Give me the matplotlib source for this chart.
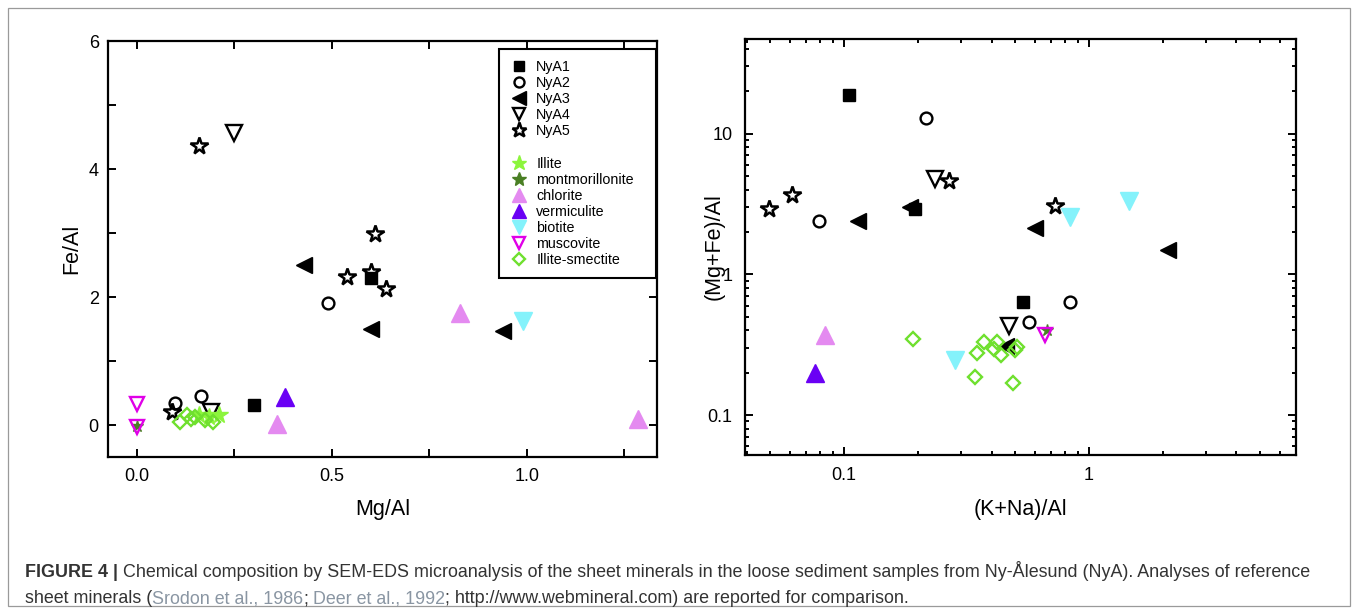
import matplotlib
matplotlib.use("Agg")
import matplotlib.pyplot as plt
from matplotlib.lines import Line2D
from matplotlib.patches import Rectangle
from matplotlib.ticker import FixedLocator, NullFormatter, FuncFormatter

W, H = 1358, 614

# ---- left panel: Mg/Al (x) vs Fe/Al (y)
l_nya1_x = [0.60, 0.30]
l_nya1_y = [2.29, 0.31]
l_nya2_x = [0.49, 0.165, 0.098]
l_nya2_y = [1.90, 0.46, 0.34]
l_nya3_x = [0.43, 0.60, 0.94]
l_nya3_y = [2.50, 1.50, 1.47]
l_nya4_x = [0.25, 0.19]
l_nya4_y = [4.57, 0.21]
l_nya5_x = [0.16, 0.61, 0.54, 0.60, 0.64, 0.092]
l_nya5_y = [4.36, 2.98, 2.31, 2.39, 2.13, 0.20]
l_illite_x = [0.16, 0.185, 0.21]
l_illite_y = [0.15, 0.12, 0.15]
l_mont_x = [0.0]
l_mont_y = [-0.02]
l_chlorite_x = [0.83, 0.36, 1.285]
l_chlorite_y = [1.75, 0.01, 0.09]
l_verm_x = [0.38]
l_verm_y = [0.44]
l_biotite_x = [0.99]
l_biotite_y = [1.62]
l_musc_x = [0.0, 0.0]
l_musc_y = [0.33, -0.03]
l_is_x = [0.11, 0.13, 0.15, 0.175, 0.195, 0.14]
l_is_y = [0.04, 0.16, 0.12, 0.08, 0.05, 0.10]

# ---- right panel: (K+Na)/Al (x) vs (Mg+Fe)/Al (y), both log
r_nya1_x = [0.105, 0.194, 0.537]
r_nya1_y = [18.9, 2.90, 0.64]
r_nya2_x = [0.217, 0.0787, 0.84, 0.571]
r_nya2_y = [12.8, 2.40, 0.64, 0.46]
r_nya3_x = [0.114, 0.186, 0.603, 2.10, 0.457]
r_nya3_y = [2.40, 3.00, 2.15, 1.48, 0.31]
r_nya4_x = [0.235, 0.472]
r_nya4_y = [4.77, 0.43]
r_nya5_x = [0.0493, 0.0614, 0.267, 0.724]
r_nya5_y = [2.90, 3.67, 4.57, 3.04]
r_mont_x = [0.675]
r_mont_y = [0.40]
r_chlorite_x = [0.0835]
r_chlorite_y = [0.37]
r_verm_x = [0.0758]
r_verm_y = [0.20]
r_biotite_x = [0.284, 0.84, 1.45]
r_biotite_y = [0.248, 2.56, 3.30]
r_musc_x = [0.66]
r_musc_y = [0.37]
r_is_x = [0.191, 0.372, 0.42, 0.349, 0.41, 0.438, 0.509, 0.50, 0.343, 0.488]
r_is_y = [0.346, 0.33, 0.328, 0.274, 0.294, 0.269, 0.305, 0.29, 0.187, 0.17]

labels = ["NyA1", "NyA2", "NyA3", "NyA4", "NyA5",
          "Illite", "montmorillonite", "chlorite", "vermiculite",
          "biotite", "muscovite", "Illite-smectite"]

left_sets = dict(zip(labels, [
    (l_nya1_x, l_nya1_y), (l_nya2_x, l_nya2_y), (l_nya3_x, l_nya3_y),
    (l_nya4_x, l_nya4_y), (l_nya5_x, l_nya5_y), (l_illite_x, l_illite_y),
    (l_mont_x, l_mont_y), (l_chlorite_x, l_chlorite_y), (l_verm_x, l_verm_y),
    (l_biotite_x, l_biotite_y), (l_musc_x, l_musc_y), (l_is_x, l_is_y)]))
right_sets = dict(zip(labels, [
    (r_nya1_x, r_nya1_y), (r_nya2_x, r_nya2_y), (r_nya3_x, r_nya3_y),
    (r_nya4_x, r_nya4_y), (r_nya5_x, r_nya5_y), ([], []),
    (r_mont_x, r_mont_y), (r_chlorite_x, r_chlorite_y), (r_verm_x, r_verm_y),
    (r_biotite_x, r_biotite_y), (r_musc_x, r_musc_y), (r_is_x, r_is_y)]))

# marker, size, face, edge, edge width
styles = {
    "NyA1": ("s", 9, "black", "black", 1.0),
    "NyA2": ("o", 8.5, "none", "black", 1.7),
    "NyA3": ("<", 12, "black", "black", 1.0),
    "NyA4": ("v", 11, "none", "black", 1.7),
    "NyA5": ("*", 13, "none", "black", 1.8),
    "Illite": ("*", 13, "#8cf53c", "#8cf53c", 1.0),
    "montmorillonite": ("*", 9, "#4a7f24", "#4a7f24", 1.0),
    "chlorite": ("^", 12.5, "#e48af0", "#e48af0", 1.0),
    "vermiculite": ("^", 12.5, "#6a00f4", "#6a00f4", 1.0),
    "biotite": ("v", 12.5, "#84f2fb", "#84f2fb", 1.0),
    "muscovite": ("v", 10.5, "none", "#e000e8", 1.7),
    "Illite-smectite": ("D", 7.5, "none", "#6fe02e", 1.7),
}
legend_sizes = {"montmorillonite": 12}
draw_order = ["NyA1", "NyA2", "NyA3", "NyA4", "NyA5", "montmorillonite",
              "Illite", "chlorite", "vermiculite", "biotite", "muscovite",
              "Illite-smectite"]

plt.rcParams["font.family"] = ["Liberation Sans", "DejaVu Sans"]

fig = plt.figure(figsize=(W / 100, H / 100), dpi=100)
fig.patches.append(Rectangle((8 / W, 1 - 606 / H), 1342 / W, 598 / H,
                             transform=fig.transFigure, fill=False,
                             edgecolor="#9a9a9a", linewidth=0.9))


def axes_px(x0, y0, x1, y1):
    return fig.add_axes([x0 / W, 1 - y1 / H, (x1 - x0) / W, (y1 - y0) / H])


def draw_points(ax, sets):
    for name in draw_order:
        xs, ys = sets[name]
        if not xs:
            continue
        m, ms, fc, ec, mew = styles[name]
        ax.plot(xs, ys, linestyle="none", marker=m, markersize=ms,
                markerfacecolor=fc, markeredgecolor=ec, markeredgewidth=mew)


def style_axes(ax):
    for sp in ax.spines.values():
        sp.set_linewidth(1.6)
    ax.tick_params(which="both", direction="in", top=True, right=True,
                   width=1.4, labelsize=13, colors="black")
    ax.tick_params(which="major", length=6)


# left panel
ax1 = axes_px(108.5, 41, 657, 457)
draw_points(ax1, left_sets)
ax1.set_xlim(-0.072, 1.334)
ax1.set_ylim(-0.5, 6)
style_axes(ax1)
ax1.tick_params(which="minor", length=6)
ax1.tick_params(axis="x", which="major", pad=8)
ax1.tick_params(axis="y", which="major", pad=7)
ax1.xaxis.set_major_locator(FixedLocator([0.0, 0.5, 1.0]))
ax1.xaxis.set_minor_locator(FixedLocator([0.25, 0.75, 1.25]))
ax1.xaxis.set_major_formatter(FuncFormatter(lambda v, p: "%.1f" % v))
ax1.yaxis.set_major_locator(FixedLocator([0, 2, 4, 6]))
ax1.yaxis.set_minor_locator(FixedLocator([1, 3, 5]))
ax1.set_xlabel("Mg/Al", fontsize=15.5)
ax1.set_ylabel("Fe/Al", fontsize=15.5)
ax1.xaxis.set_label_coords(0.5, -0.1)
ax1.yaxis.set_label_coords(-0.047, 0.5)

handles = []
for name in labels[:5]:
    m, ms, fc, ec, mew = styles[name]
    handles.append(Line2D([], [], linestyle="none", marker=m,
                          markersize=legend_sizes.get(name, ms) * 0.85,
                          markerfacecolor=fc, markeredgecolor=ec,
                          markeredgewidth=mew, label=name))
handles.append(Line2D([], [], linestyle="none", marker="none", label=" "))
for name in labels[5:]:
    m, ms, fc, ec, mew = styles[name]
    handles.append(Line2D([], [], linestyle="none", marker=m,
                          markersize=legend_sizes.get(name, ms) * 0.85,
                          markerfacecolor=fc, markeredgecolor=ec,
                          markeredgewidth=mew, label=name))
leg = ax1.legend(handles=handles, loc="upper left",
                 bbox_to_anchor=(0.712, 0.0, 0.286, 0.981), mode="expand",
                 fontsize=10.3, frameon=True, fancybox=False, framealpha=1,
                 edgecolor="black", borderpad=0.75, labelspacing=0.15,
                 handlelength=1.3, handletextpad=0.55, borderaxespad=0)
leg.get_frame().set_linewidth(1.5)

# right panel
ax2 = axes_px(745, 39, 1296, 455)
draw_points(ax2, right_sets)
ax2.set_xscale("log")
ax2.set_yscale("log")
ax2.set_xlim(0.0394, 7.0)
ax2.set_ylim(0.052, 47)
style_axes(ax2)
ax2.tick_params(which="minor", length=3)
ax2.tick_params(axis="both", which="major", pad=9)
ax2.xaxis.set_major_locator(FixedLocator([0.1, 1]))
ax2.yaxis.set_major_locator(FixedLocator([0.1, 1, 10]))
ax2.xaxis.set_minor_locator(FixedLocator([0.04, 0.05, 0.06, 0.07, 0.08, 0.09,
                                          0.2, 0.3, 0.4, 0.5, 0.6, 0.7, 0.8, 0.9,
                                          2, 3, 4, 5, 6, 7]))
ax2.yaxis.set_minor_locator(FixedLocator([0.06, 0.07, 0.08, 0.09,
                                          0.2, 0.3, 0.4, 0.5, 0.6, 0.7, 0.8, 0.9,
                                          2, 3, 4, 5, 6, 7, 8, 9,
                                          20, 30, 40]))
fmt = FuncFormatter(lambda v, p: "%g" % v)
ax2.xaxis.set_major_formatter(fmt)
ax2.yaxis.set_major_formatter(fmt)
ax2.xaxis.set_minor_formatter(NullFormatter())
ax2.yaxis.set_minor_formatter(NullFormatter())
ax2.set_xlabel("(K+Na)/Al", fontsize=15.5)
ax2.set_ylabel("(Mg+Fe)/Al", fontsize=15.5)
ax2.xaxis.set_label_coords(0.5, -0.106)
ax2.yaxis.set_label_coords(-0.037, 0.5)

# caption
cap_font = ["Liberation Sans Narrow", "Liberation Sans", "DejaVu Sans"]
cap_size = 12.9
dark = "#333333"
link = "#8a96a3"
renderer = fig.canvas.get_renderer()


def text_width(s, weight="normal"):
    t = fig.text(0, 0, s, fontsize=cap_size, family=cap_font, fontweight=weight)
    w = t.get_window_extent(renderer).width
    t.remove()
    return w


space_w = text_width("x x") - text_width("xx")


def caption_line(x_px, y_px, runs):
    x = x_px
    for s, weight, color, gap in runs:
        t = fig.text(x / W, 1 - y_px / H, s, fontsize=cap_size, family=cap_font,
                     fontweight=weight, color=color, va="baseline")
        x += t.get_window_extent(renderer).width
        if gap:
            x += space_w


caption_line(25, 577, [
    ("FIGURE 4 |", "bold", dark, True),
    ("Chemical composition by SEM-EDS microanalysis of the sheet minerals in the "
     "loose sediment samples from Ny-Ålesund (NyA). Analyses of reference", "normal", dark, False),
])
caption_line(25, 603, [
    ("sheet minerals (", "normal", dark, False),
    ("Srodon et al., 1986", "normal", link, False),
    (";", "normal", dark, True),
    ("Deer et al., 1992", "normal", link, False),
    ("; http://www.webmineral.com) are reported for comparison.", "normal", dark, False),
])

fig.savefig("out.png", dpi=100)
